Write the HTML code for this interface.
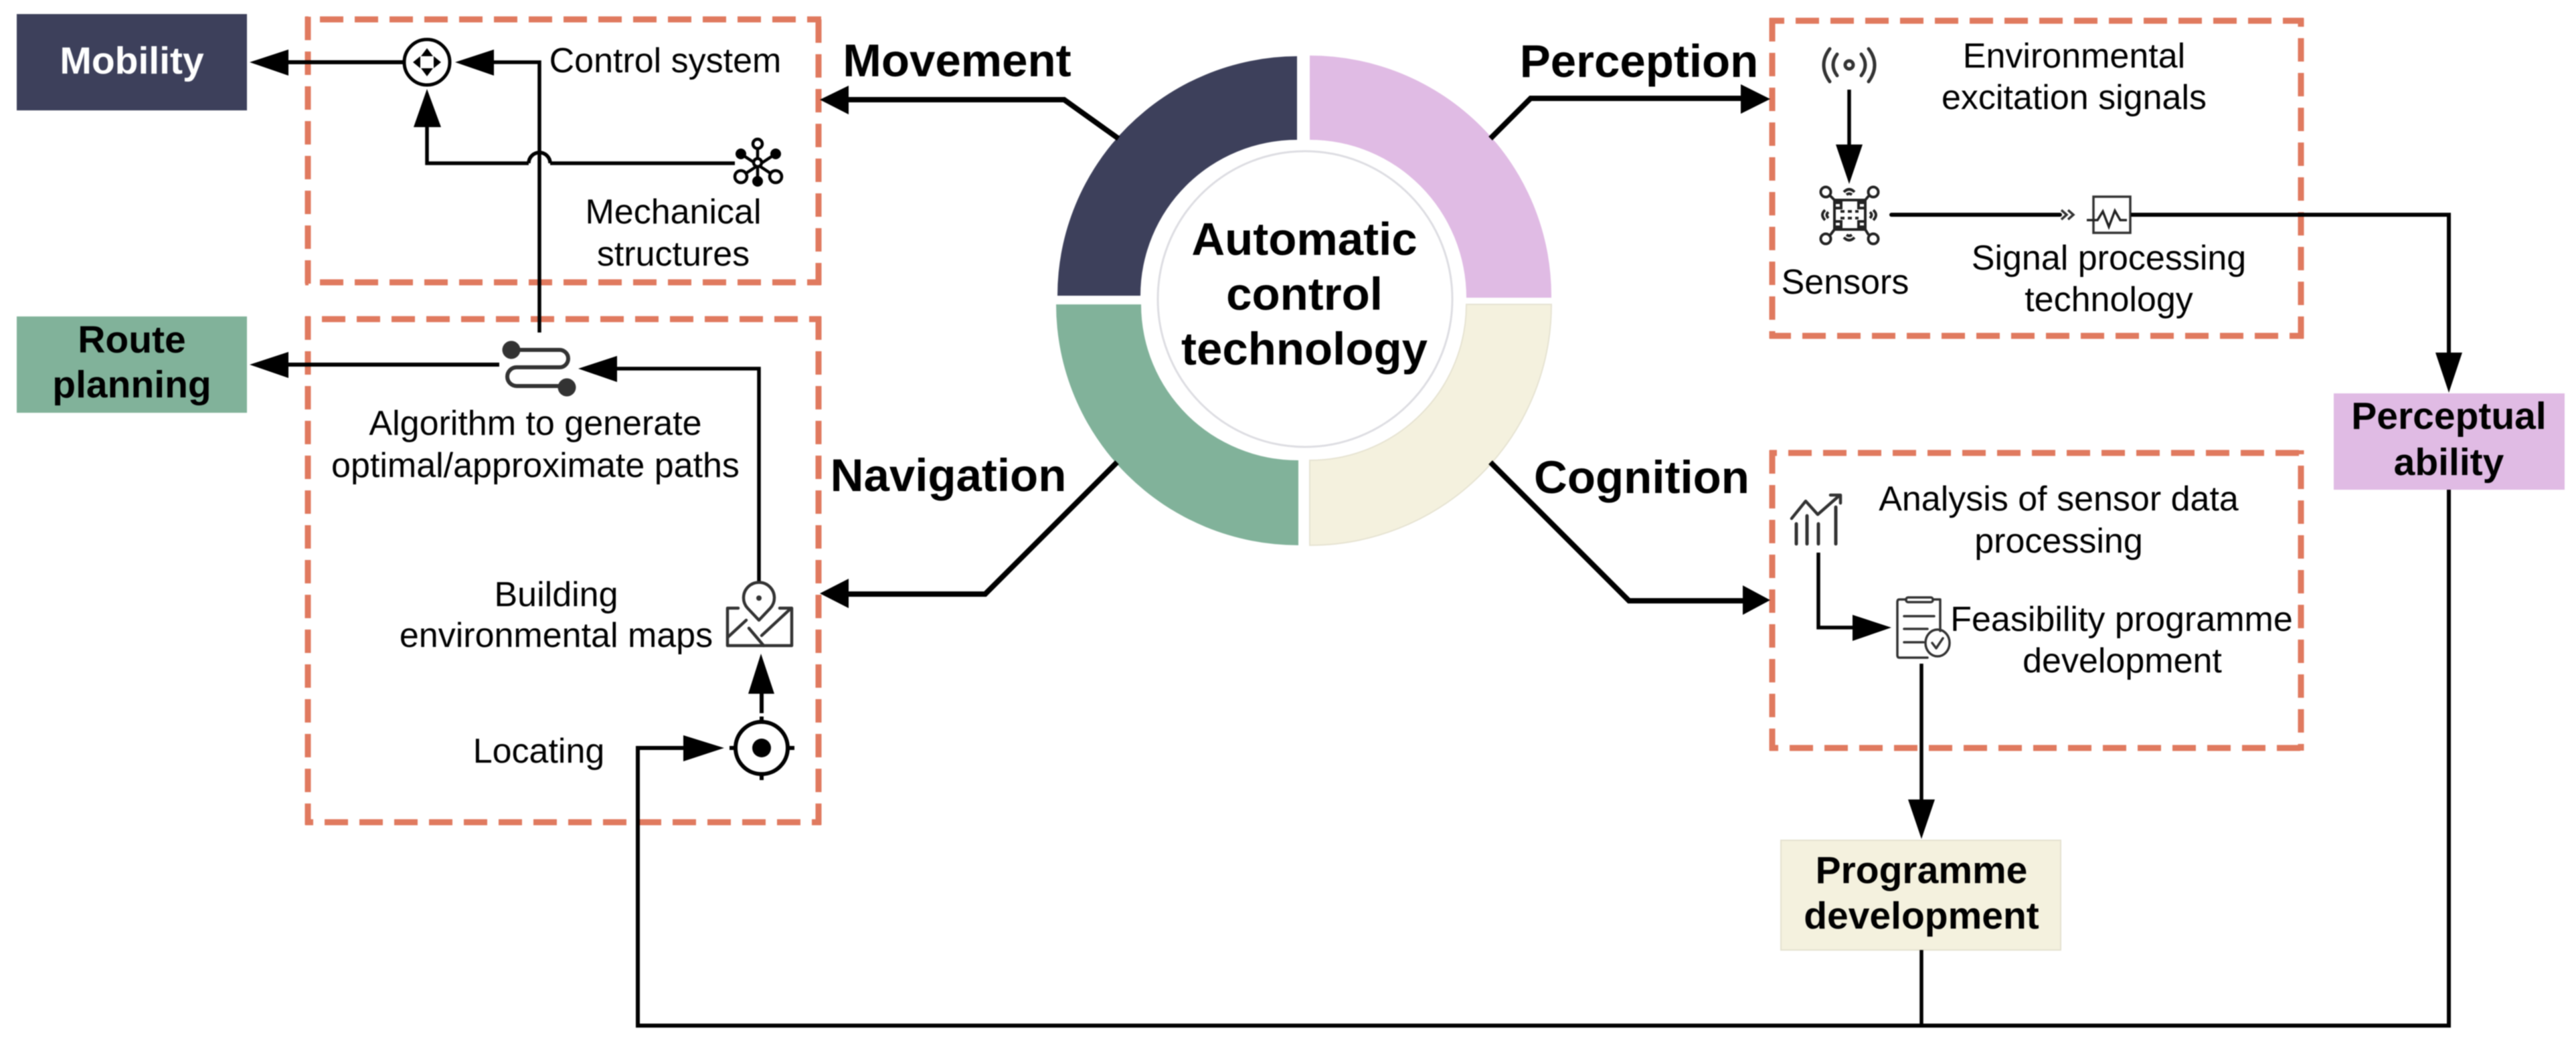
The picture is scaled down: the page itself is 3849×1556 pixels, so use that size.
<!DOCTYPE html>
<html><head><meta charset="utf-8"><style>
html,body{margin:0;padding:0;background:#fff}
svg{display:block;filter:blur(0.8px)}
text{font-family:"Liberation Sans",Arial,sans-serif;fill:#000;text-anchor:middle}
.t{font-size:52px}
.b{font-size:57px;font-weight:bold}
.h{font-size:69px;font-weight:bold}
.d line{stroke:#E07A5F;stroke-width:9;stroke-dasharray:35 17;fill:none}
.l{fill:none;stroke:#000;stroke-width:5.5;stroke-linejoin:miter}
.k{fill:none;stroke:#000;stroke-width:8}
.i{fill:none;stroke:#333;stroke-width:4.5;stroke-linecap:round;stroke-linejoin:round}
</style></head><body>
<svg width="3849" height="1556" viewBox="0 0 3849 1556" xmlns="http://www.w3.org/2000/svg">
<rect width="3849" height="1556" fill="#fff"/>

<!-- donut -->
<path d="M1938 84 A360 358 0 0 0 1580 442 H1704 A234 233 0 0 1 1938 209 Z" fill="#3D405B"/>
<path d="M1957 83 A361 359 0 0 1 2318 445 H2191 A234 236 0 0 0 1957 209 Z" fill="#E0BBE4"/>
<path d="M1578 455 H1705 A234 233 0 0 0 1940 688 V815 A362 360 0 0 1 1578 455 Z" fill="#81B29A"/>
<path d="M2318 455 H2191 A234 233 0 0 1 1957 688 V815 A361 360 0 0 0 2318 455 Z" fill="#F4F1DE" stroke="#e6e3d2" stroke-width="2"/>
<ellipse cx="1950" cy="447" rx="220" ry="221" fill="#fff" stroke="#dddde2" stroke-width="3"/>
<text class="h" x="1949" y="381">Automatic</text>
<text class="h" x="1949" y="463">control</text>
<text class="h" x="1949" y="545">technology</text>

<!-- dashed boxes -->
<g class="d">
<line x1="456" y1="29" x2="1227" y2="29" stroke-dashoffset="30"/>
<line x1="456" y1="422" x2="1227" y2="422" stroke-dashoffset="30"/>
<line x1="460" y1="25" x2="460" y2="426"/>
<line x1="1223" y1="25" x2="1223" y2="426" stroke-dashoffset="48"/>
<line x1="456" y1="477" x2="1227" y2="477" stroke-dashoffset="27"/>
<line x1="456" y1="1229" x2="1227" y2="1229" stroke-dashoffset="23"/>
<line x1="460" y1="473" x2="460" y2="1233"/>
<line x1="1223" y1="473" x2="1223" y2="1233"/>
<line x1="2644" y1="31" x2="3442" y2="31" stroke-dashoffset="13"/>
<line x1="2644" y1="502" x2="3442" y2="502" stroke-dashoffset="3"/>
<line x1="2648" y1="27" x2="2648" y2="506"/>
<line x1="3438" y1="27" x2="3438" y2="506" stroke-dashoffset="22"/>
<line x1="2644" y1="677" x2="3442" y2="677" stroke-dashoffset="24"/>
<line x1="2644" y1="1118" x2="3442" y2="1118" stroke-dashoffset="22"/>
<line x1="2648" y1="673" x2="2648" y2="1122"/>
<line x1="3438" y1="673" x2="3438" y2="1122" stroke-dashoffset="29"/>
</g>

<!-- filled boxes -->
<rect x="25" y="21" width="344" height="144" fill="#3D405B"/>
<text class="b" x="197" y="110" style="fill:#fff">Mobility</text>
<rect x="25" y="473" width="344" height="144" fill="#81B29A"/>
<text class="b" x="197" y="527">Route</text>
<text class="b" x="197" y="594">planning</text>
<rect x="3487" y="588" width="345" height="144" fill="#E0BBE4"/>
<text class="b" x="3659" y="641">Perceptual</text>
<text class="b" x="3659" y="710">ability</text>
<rect x="2661" y="1256" width="418" height="164" fill="#F4F1DE" stroke="#e4e1d0" stroke-width="2"/>
<text class="b" x="2871" y="1320">Programme</text>
<text class="b" x="2871" y="1388">development</text>

<!-- heading labels -->
<text class="h" x="1430" y="114">Movement</text>
<text class="h" x="2449" y="115">Perception</text>
<text class="h" x="1417" y="734">Navigation</text>
<text class="h" x="2453" y="737">Cognition</text>

<!-- donut connectors -->
<polyline class="k" points="1671,207 1590,149 1262,149"/>
<polygon points="1225,149 1268,128 1268,171"/>
<polyline class="k" points="2227,207 2287,147 2605,147"/>
<polygon points="2645,148 2601,126 2601,170"/>
<polyline class="k" points="1669,691 1472,888 1262,888"/>
<polygon points="1225,887 1268,865 1268,909"/>
<polyline class="k" points="2227,691 2434,898 2608,898"/>
<polygon points="2645,897 2604,875 2604,919"/>

<!-- text labels -->
<text class="t" x="994" y="108">Control system</text>
<text class="t" x="1006" y="334">Mechanical</text>
<text class="t" x="1006" y="397">structures</text>
<text class="t" x="800" y="650">Algorithm to generate</text>
<text class="t" x="800" y="713">optimal/approximate paths</text>
<text class="t" x="831" y="906">Building</text>
<text class="t" x="831" y="967">environmental maps</text>
<text class="t" x="805" y="1140">Locating</text>
<text class="t" x="3099" y="101">Environmental</text>
<text class="t" x="3099" y="163">excitation signals</text>
<text class="t" x="2757" y="439">Sensors</text>
<text class="t" x="3151" y="403">Signal processing</text>
<text class="t" x="3151" y="465">technology</text>
<text class="t" x="3076" y="763">Analysis of sensor data</text>
<text class="t" x="3076" y="826">processing</text>
<text class="t" x="3170" y="943">Feasibility programme</text>
<text class="t" x="3171" y="1005">development</text>

<!-- left top connectors -->
<line class="l" x1="425" y1="93" x2="602" y2="93" style="stroke-width:6"/>
<polygon points="373,93 431,74 431,113"/>
<polygon points="680,93 738,74 738,113"/>
<polyline class="l" points="735,93 806,93 806,497"/>
<polyline class="l" points="1098,244 822,244"/>
<path class="l" d="M790 244 a15 15 0 0 1 32 0 M790 244 H638 V185"/>
<polygon points="638,133 618,190 659,190"/>
<!-- control icon -->
<circle cx="638" cy="93" r="34" fill="#fff" stroke="#000" stroke-width="5"/>
<polygon points="638,72 629,84 647,84"/>
<polygon points="638,114 629,102 647,102"/>
<polygon points="617,93 628,84 628,102"/>
<polygon points="659,93 648,84 648,102"/>
<!-- mechanical icon -->
<g stroke="#000" stroke-width="4.5" fill="#fff">
<line x1="1132" y1="214" x2="1132" y2="270"/>
<line x1="1107" y1="230" x2="1159" y2="264"/>
<line x1="1159" y1="230" x2="1107" y2="264"/>
<circle cx="1132" cy="215" r="7"/>
<circle cx="1107" cy="264" r="9"/>
<circle cx="1159" cy="264" r="9"/>
<circle cx="1132" cy="243" r="6"/>
</g>
<circle cx="1107" cy="230" r="8"/><circle cx="1159" cy="230" r="8"/><circle cx="1132" cy="271" r="8"/>

<!-- route -->
<line class="l" x1="425" y1="545" x2="746" y2="545" style="stroke-width:6"/>
<polygon points="373,545 431,526 431,565"/>
<polygon points="864,551 922,532 922,571"/>
<polyline class="l" points="918,551 1134,551 1134,872"/>
<path d="M770 523 H836 a13 13 0 0 1 0 26 H772 a14 14 0 0 0 0 28 H845" fill="none" stroke="#333" stroke-width="6"/>
<circle cx="764" cy="523" r="13.5" fill="#333"/>
<circle cx="847" cy="579" r="13.5" fill="#333"/>

<!-- map icon -->
<g class="i">
<path d="M1134 927 L1117 909 A23 23 0 1 1 1151 909 Z"/>
<path d="M1103 909 H1087 V965 H1183 V909 H1165"/>
<path d="M1088 952 L1115 927 M1119 939 L1141 965 M1138 950 L1180 911"/>
</g>
<circle cx="1134" cy="894" r="4" fill="#333"/>

<!-- locate -->
<polygon points="1137,977 1118,1037 1157,1037"/>
<line class="l" x1="1138" y1="1030" x2="1138" y2="1066" style="stroke-width:6"/>
<circle cx="1138" cy="1118" r="39" fill="none" stroke="#000" stroke-width="6"/>
<circle cx="1138" cy="1118" r="14"/>
<g stroke="#000" stroke-width="6">
<line x1="1138" y1="1071" x2="1138" y2="1082"/><line x1="1138" y1="1155" x2="1138" y2="1166"/>
<line x1="1090" y1="1118" x2="1102" y2="1118"/><line x1="1175" y1="1118" x2="1187" y2="1118"/>
</g>
<polygon points="1082,1118 1021,1099 1021,1138"/>
<polyline class="l" points="1025,1118 953,1118 953,1533 3659,1533 3659,732" style="stroke-width:6"/>
<line class="l" x1="2871" y1="1420" x2="2871" y2="1533"/>

<!-- perception internals -->
<g class="i" style="stroke:#333;stroke-width:5">
<path d="M2734 73 Q2716 97 2734 122 M2745 81 Q2733 97 2745 113 M2781 81 Q2793 97 2781 113 M2792 73 Q2810 97 2792 122"/>
<circle cx="2763" cy="97" r="6"/>
</g>
<line class="l" x1="2763" y1="134" x2="2763" y2="220"/>
<polygon points="2763,275 2743,216 2783,216"/>
<!-- sensor chip -->
<g fill="none" stroke="#222" stroke-width="4">
<rect x="2741" y="299" width="46" height="44"/>
<rect x="2741" y="303" width="10" height="8"/><rect x="2777" y="303" width="10" height="8"/>
<rect x="2741" y="331" width="10" height="8"/><rect x="2777" y="331" width="10" height="8"/>
<circle cx="2728" cy="287" r="7.5"/><circle cx="2799" cy="287" r="7.5"/>
<circle cx="2728" cy="357" r="7.5"/><circle cx="2799" cy="357" r="7.5"/>
<path d="M2735 293 L2741 299 M2792 293 L2787 299 M2735 351 L2741 343 M2792 351 L2787 343"/>
<path d="M2755 287 Q2763 279 2771 287 M2759 291 Q2763 288 2767 291 M2755 355 Q2763 363 2771 355 M2759 351 Q2763 354 2767 351"/>
<path d="M2727 314 Q2719 321 2727 329 M2732 317 Q2727 321 2732 326 M2799 314 Q2807 321 2799 329 M2794 317 Q2799 321 2794 326"/>
<path d="M2750 316 H2777 M2750 326 H2777" stroke-dasharray="6 5"/>
</g>
<line class="l" x1="2826" y1="321" x2="3078" y2="321" style="stroke-width:6;stroke-linecap:round"/>
<path d="M3080 314 L3088 321 L3080 328 M3090 314 L3098 321 L3090 328" fill="none" stroke="#333" stroke-width="3.5"/>
<rect x="3128" y="294" width="55" height="54" fill="none" stroke="#333" stroke-width="3.5"/>
<polyline points="3118,329 3134,329 3142,316 3151,339 3160,315 3168,329 3178,329" fill="none" stroke="#222" stroke-width="3.5"/>
<polyline class="l" points="3184,321 3659,321 3659,530" style="stroke-width:6"/>
<polygon points="3659,587 3639,527 3679,527"/>

<!-- cognition internals -->
<g class="i" style="stroke:#333">
<path d="M2677 775 L2698 749 L2716 769 L2748 741 M2735 740 H2750 V752"/>
<path d="M2684 783 V813 M2700 771 V813 M2717 783 V813 M2743 758 V813" style="stroke-width:5"/>
</g>
<polyline class="l" points="2717,826 2717,938 2775,938"/>
<polygon points="2826,938 2768,919 2768,958"/>
<g class="i" style="stroke:#333;stroke-width:3.5">
<path d="M2848 896 H2838 Q2835 896 2835 900 V979 Q2835 983 2838 983 H2880 M2889 896 H2899 V943"/>
<rect x="2848" y="893" width="40" height="7" rx="3"/>
<path d="M2845 921 H2890 M2845 940 H2880 M2845 960 H2874"/>
<ellipse cx="2895" cy="961" rx="18" ry="20"/>
<path d="M2887 961 L2893 969 L2903 954"/>
</g>
<line class="l" x1="2871" y1="992" x2="2871" y2="1200"/>
<polygon points="2871,1254 2851,1195 2891,1195"/>
</svg>
</body></html>
